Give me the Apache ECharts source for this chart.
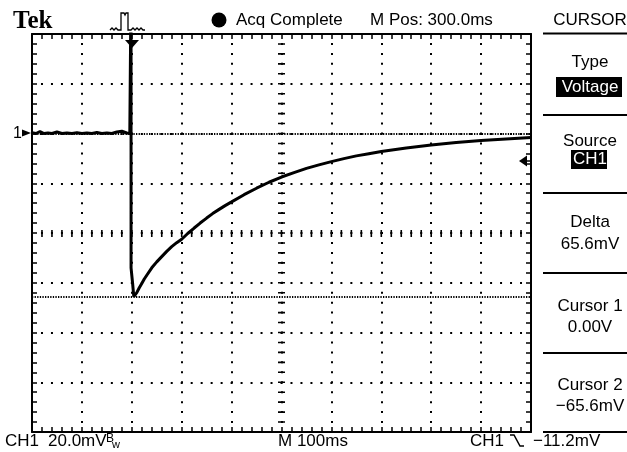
<!DOCTYPE html>
<html>
<head>
<meta charset="utf-8">
<script src="https://cdn.jsdelivr.net/npm/echarts@6/dist/echarts.min.js"></script>
<style>
  html, body { margin: 0; padding: 0; background: #fff; }
  #chart { width: 627px; height: 452px; }
</style>
</head>
<body>
<div id="chart"></div>
<script>
// trace: time (ms, 0 = trigger) and CH1 voltage (mV)
const traceTime = [
  -200, -192, -184, -176, -168, -160, -150, -140, -130, -120, -110, -100, -90, -80, -70,
  -60, -50, -40, -30, -20, -10, -4, -1.5, -1.5, -1.5, 1, 1.5, 4, 7, 10, 15, 20, 25, 30,
  40, 50, 60, 70, 80, 90, 100, 112, 125, 137, 150, 162, 175, 187, 200, 225, 250, 275,
  300, 325, 350, 375, 400, 425, 450, 475, 500, 525, 550, 575, 600, 625, 650, 675, 700,
  725, 750, 775, 800
];
const traceMv = [
  0.3, 0, 0.8, 0, 0.2, 0, 0.6, 0, 0.2, 0, 0.3, 0, 0.2, 0, 0.4,
  0, 0.2, 0, 0.6, 0.9, 0.2, 0, 0, 60, -54, -54.5, -60, -65.6, -65.2, -64, -62, -60.3, -58.5, -57,
  -54, -51.6, -49.5, -47.4, -45.5, -43.9, -42.5, -40.2, -38, -36, -34, -32.2, -30.5, -29, -27.5, -24.6, -22, -19.6,
  -17.5, -15.7, -14, -12.6, -11.3, -10.1, -9, -8.1, -7.2, -6.5, -5.8, -5.2, -4.6, -4.1, -3.6, -3.2, -2.8,
  -2.5, -2.2, -1.9, -1.6
];

// cursor levels (mV) and trigger level
const cursorLevels = [0, -65.6];
const triggerLevel = -11.2;

// screen: 10 x 100 ms, 8 x 20 mV
const timeRange = [-200, 800];
const voltRange = [-120, 40];

const menuTitles = ['Type', 'Source', 'Delta', 'Cursor 1', 'Cursor 2'];
const menuValues = ['Voltage', 'CH1', '65.6mV', '0.00V', '\u221265.6mV'];

const G = { left: 32, top: 34, width: 499, height: 398 };
const minorX = G.width / 50;
const minorY = G.height / 40;

const FONT = '17px "Liberation Sans", Arial, sans-serif';

function txt(text, x, y, extra) {
  return {
    type: 'text', x: x, y: y, silent: true,
    style: Object.assign({
      text: text, font: FONT, fill: '#000', align: 'left', verticalAlign: 'middle'
    }, extra || {})
  };
}
function hline(x1, x2, y, w) {
  return { type: 'line', silent: true, shape: { x1: x1, y1: y, x2: x2, y2: y },
    style: { stroke: '#000', lineWidth: w || 2 } };
}

const chart = echarts.init(document.getElementById('chart'), null, { renderer: 'canvas' });

const tickStyle = { color: '#000', width: 1.5 };

function borderAxis(base) {
  return Object.assign({
    type: 'value',
    axisLine: { show: true, onZero: false, lineStyle: { color: '#000', width: 2 } },
    axisTick: { show: true, inside: true, length: 5, lineStyle: tickStyle },
    axisLabel: { show: false },
  }, base);
}

const xAxis = [
  borderAxis({
    position: 'bottom', min: timeRange[0], max: timeRange[1], interval: 100,
    minorTick: { show: true, splitNumber: 5, length: 5, lineStyle: tickStyle },
    splitLine: { show: true, lineStyle: { color: '#000', width: 2, type: [2, minorY - 2], dashOffset: 1 } }
  }),
  borderAxis({
    position: 'top', min: timeRange[0], max: timeRange[1], interval: 500,
    minorTick: { show: true, splitNumber: 25, length: 5, lineStyle: tickStyle },
    splitLine: { show: true, showMinLine: false, showMaxLine: false,
      lineStyle: { color: '#000', width: 7, type: [1.6, minorY - 1.6], dashOffset: 0.8 } }
  })
];
const yAxis = [
  borderAxis({
    position: 'left', min: voltRange[0], max: voltRange[1], interval: 20,
    minorTick: { show: true, splitNumber: 5, length: 5, lineStyle: tickStyle },
    splitLine: { show: true, lineStyle: { color: '#000', width: 2, type: [2, minorX - 2], dashOffset: 1 } }
  }),
  borderAxis({
    position: 'right', min: voltRange[0], max: voltRange[1], interval: 80,
    minorTick: { show: true, splitNumber: 20, length: 5, lineStyle: tickStyle },
    splitLine: { show: true, showMinLine: false, showMaxLine: false,
      lineStyle: { color: '#000', width: 7, type: [1.6, minorX - 1.6], dashOffset: 0.8 } }
  })
];

const graphic = [];
// header
graphic.push(txt('Tek', 13, 22, { font: 'bold 25px "Liberation Serif", "Times New Roman", serif' }));
graphic.push({ type: 'polyline', silent: true, shape: { points: [
  [110, 30], [112, 28], [114, 30], [116, 28], [118, 30], [121, 30], [121, 13], [124, 13], [125, 15], [126, 13],
  [128, 13], [128, 30], [131, 30], [133, 28], [135, 30], [137, 28], [139, 30], [141, 28], [143, 30], [145, 30]
] }, style: { stroke: '#000', lineWidth: 1.3, fill: null } });
graphic.push({ type: 'circle', silent: true, shape: { cx: 219, cy: 20, r: 7.5 }, style: { fill: '#000' } });
graphic.push(txt('Acq Complete', 236, 20.5));
graphic.push(txt('M Pos: 300.0ms', 370, 20.5));
graphic.push(txt('CURSOR', 590, 20.5, { align: 'center' }));
graphic.push(hline(543, 627, 33.5));

// side menu
const sepY = [115, 193, 273, 353, 432];
sepY.forEach(function (y) { graphic.push(hline(543, 627, y)); });
const titleY = [62, 141, 222, 306, 385];
const valueY = [87, 159, 244, 327, 406];
menuTitles.forEach(function (t, i) {
  graphic.push(txt(t, 590, titleY[i], { align: 'center' }));
});
// inverted boxes for Type and Source values
graphic.push({ type: 'rect', silent: true, shape: { x: 556, y: 77, width: 66, height: 20 }, style: { fill: '#000' } });
graphic.push({ type: 'rect', silent: true, shape: { x: 571, y: 150, width: 36, height: 19 }, style: { fill: '#000' } });
menuValues.forEach(function (t, i) {
  graphic.push(txt(t, 590, valueY[i], { align: 'center', fill: i < 2 ? '#fff' : '#000' }));
});

// footer
graphic.push(txt('CH1', 5, 441));
graphic.push(txt('20.0mV', 48, 441));
graphic.push(txt('B', 106, 439, { font: '12px "Liberation Sans", Arial, sans-serif' }));
graphic.push(txt('w', 112, 445, { font: '11px "Liberation Sans", Arial, sans-serif' }));
graphic.push(txt('M 100ms', 278, 441));
graphic.push(txt('CH1', 470, 441));
graphic.push({ type: 'polyline', silent: true, shape: { points: [[510, 435], [514, 435], [520, 446], [524, 446]] },
  style: { stroke: '#000', lineWidth: 1.5, fill: null } });
graphic.push(txt('\u221211.2mV', 533, 441));

// channel marker, trigger position and trigger level markers
graphic.push(txt('1', 13, 134, { font: '16px "Liberation Sans", Arial, sans-serif' }));
graphic.push({ type: 'polygon', silent: true, shape: { points: [[22, 129.5], [22, 136.5], [31, 133]] }, style: { fill: '#000' } });
graphic.push({ type: 'polygon', silent: true, shape: { points: [[125, 40], [139, 40], [132, 48]] }, style: { fill: '#000' } });
graphic.push({ type: 'polygon', silent: true, shape: { points: [[519, 161], [527, 155.5], [527, 166.5]] }, style: { fill: '#000' } });
graphic.push(hline(526, 531, 161, 1.5));

const option = {
  backgroundColor: '#fff',
  animation: false,
  grid: Object.assign({ containLabel: false, outerBoundsMode: 'none' }, G),
  xAxis: xAxis,
  yAxis: yAxis,
  graphic: graphic,
  series: [
    {
      type: 'line',
      xAxisIndex: 0,
      yAxisIndex: 0,
      data: traceTime.map(function (t, i) { return [t, traceMv[i]]; }),
      showSymbol: false,
      clip: true,
      z: 5,
      lineStyle: { color: '#000', width: 3 },
      markLine: {
        silent: true,
        symbol: 'none',
        label: { show: false },
        lineStyle: { color: '#000', width: 1.8, type: [1.3, 1.3] },
        data: cursorLevels.map(function (v) { return { yAxis: v }; })
      }
    },
    {
      // trigger level only as a reference, invisible
      type: 'line',
      data: [],
      markLine: { silent: true, symbol: 'none', label: { show: false }, lineStyle: { opacity: 0 }, data: [{ yAxis: triggerLevel }] }
    }
  ]
};

chart.setOption(option);
</script>
</body>
</html>
